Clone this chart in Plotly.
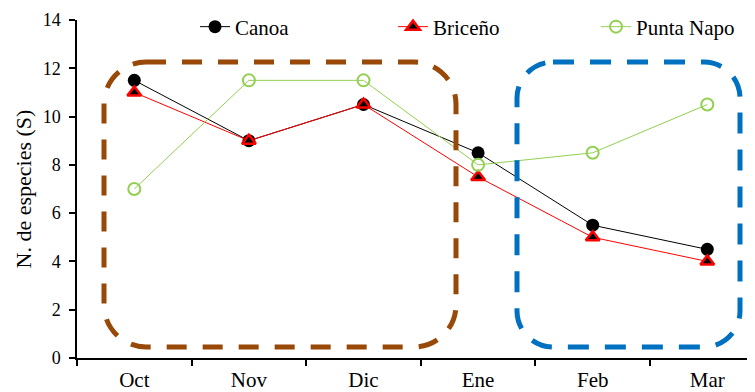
import plotly.graph_objects as go

months = ["Oct", "Nov", "Dic", "Ene", "Feb", "Mar"]
canoa = [11.5, 9, 10.5, 8.5, 5.5, 4.5]
briceno = [11, 9, 10.5, 7.5, 5, 4]
punta_napo = [7, 11.5, 11.5, 8, 8.5, 10.5]
y_ticks = [0, 2, 4, 6, 8, 10, 12, 14]

OFF = 8  # page body margin offset
W, H = 755, 392
# target plot area in page pixels: x 77..764.6, y 20..358
ML, MT = 77 - OFF, 20 - OFF
MB = H - (358 - OFF)
MR = 0
PW, PH = W - ML - MR, H - MT - MB
BAND = 114.6  # px per category

FONT = "Liberation Serif"

fig = go.Figure()
fig.add_trace(go.Scatter(
    x=months, y=canoa, name="Canoa", mode="lines+markers", legend="legend",
    line=dict(color="black", width=1),
    marker=dict(symbol="circle", size=13, color="black"),
))
fig.add_trace(go.Scatter(
    x=months, y=briceno, name="Briceño", mode="lines+markers", legend="legend2",
    line=dict(color="#FF0000", width=1),
    marker=dict(symbol="triangle-up", size=12, color="black",
                line=dict(color="#FF0000", width=2.5)),
))
fig.add_trace(go.Scatter(
    x=months, y=punta_napo, name="Punta Napo", mode="lines+markers", legend="legend3",
    line=dict(color="#92D050", width=1),
    marker=dict(symbol="circle-open", size=12, color="#92D050",
                line=dict(color="#92D050", width=2)),
))


def px(x):
    return (x - OFF - ML) / PW


def py(y):
    return (H - MB - (y - OFF)) / PH


def rounded_box(x0, y0, x1, y1, r):
    """Page-pixel box -> paper-coordinate rounded rectangle path."""
    k = 0.45  # bezier control factor
    p = []
    p.append(f"M {px(x0 + r)},{py(y0)}")
    p.append(f"L {px(x1 - r)},{py(y0)}")
    p.append(f"C {px(x1 - r * k)},{py(y0)} {px(x1)},{py(y0 + r * k)} {px(x1)},{py(y0 + r)}")
    p.append(f"L {px(x1)},{py(y1 - r)}")
    p.append(f"C {px(x1)},{py(y1 - r * k)} {px(x1 - r * k)},{py(y1)} {px(x1 - r)},{py(y1)}")
    p.append(f"L {px(x0 + r)},{py(y1)}")
    p.append(f"C {px(x0 + r * k)},{py(y1)} {px(x0)},{py(y1 - r * k)} {px(x0)},{py(y1 - r)}")
    p.append(f"L {px(x0)},{py(y0 + r)}")
    p.append(f"C {px(x0)},{py(y0 + r * k)} {px(x0 + r * k)},{py(y0)} {px(x0 + r)},{py(y0)}")
    p.append("Z")
    return " ".join(p)


fig.add_shape(type="path", xref="paper", yref="paper",
              path=rounded_box(104, 62, 456, 347, 42),
              line=dict(color="#984807", width=5, dash="20px,16px"))
fig.add_shape(type="path", xref="paper", yref="paper",
              path=rounded_box(517, 62, 740, 347, 36),
              line=dict(color="#0070C0", width=5, dash="21px,16px"))


def leg(text_x):
    # legend text begins ~42px after the legend's left edge
    return dict(orientation="h", x=px(text_x - 42), xanchor="left",
                y=py(27), yanchor="middle",
                font=dict(size=21, family=FONT), bgcolor="rgba(0,0,0,0)")


fig.update_layout(
    width=W, height=H,
    margin=dict(l=ML, r=MR, t=MT, b=MB, autoexpand=False),
    paper_bgcolor="white", plot_bgcolor="white",
    font=dict(family=FONT, color="black"),
    showlegend=True,
    legend=leg(237), legend2=leg(435), legend3=leg(638),
    xaxis=dict(range=[-0.5, -0.5 + PW / BAND], showline=True, linecolor="black",
               linewidth=1.5, ticks="outside", tickson="boundaries", ticklen=6,
               tickcolor="black", tickwidth=1.5, showgrid=False, zeroline=False,
               tickfont=dict(size=21, family=FONT), ticklabelstandoff=2),
    yaxis=dict(range=[0, 14], tickvals=y_ticks, showline=True, linecolor="black",
               linewidth=1.5, ticks="outside", ticklen=6, tickcolor="black",
               tickwidth=1.5, showgrid=False, zeroline=False,
               tickfont=dict(size=18, family=FONT), ticklabelstandoff=5,
               title=dict(text="N. de especies (S)", font=dict(size=22, family=FONT),
                          standoff=5)),
)

fig.write_html("out.html")
